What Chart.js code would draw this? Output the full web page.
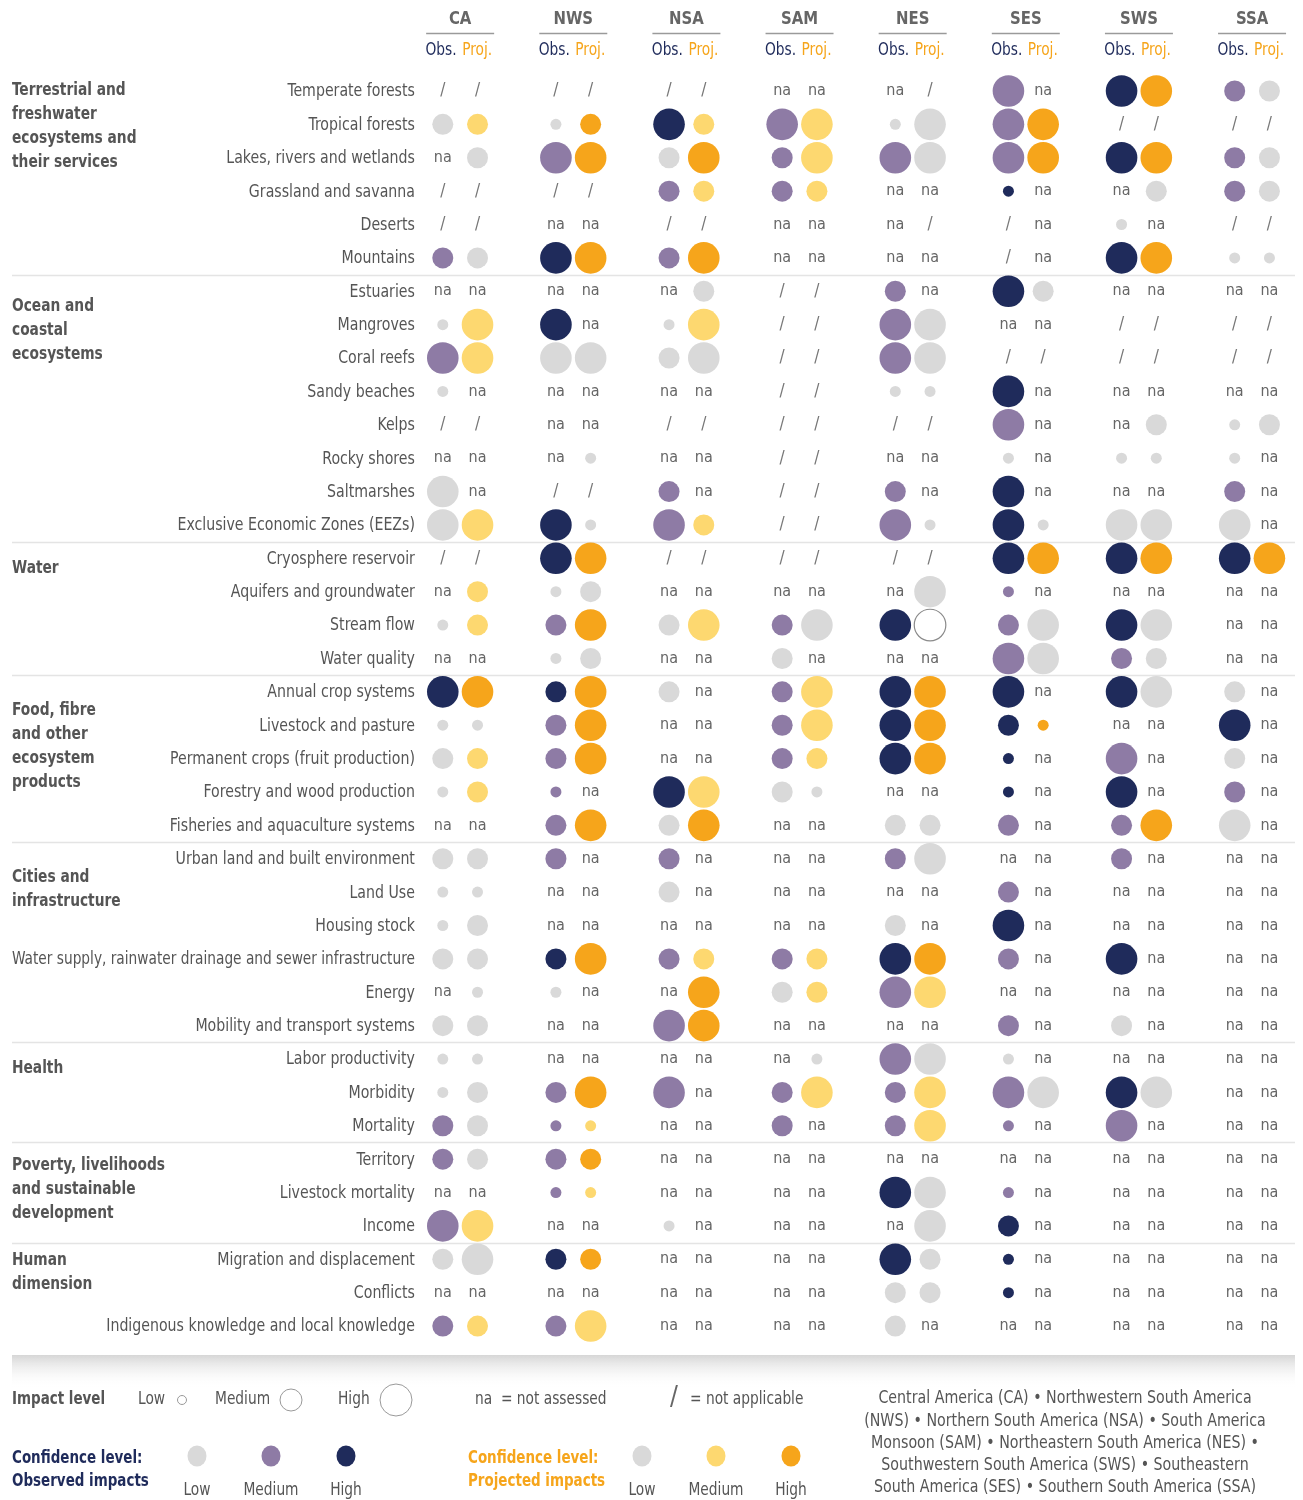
<!DOCTYPE html>
<html>
<head>
<meta charset="utf-8">
<script src="https://cdn.jsdelivr.net/npm/chart.js@4.4.1/dist/chart.umd.min.js"></script>
<style>
  html, body { margin: 0; background: #fff; }
  #wrap { width: 1303px; height: 1500px; position: relative; }
</style>
</head>
<body>
<div id="wrap"><canvas id="chart"></canvas></div>
<script>
// ---- data ----
const REGIONS = ['CA', 'NWS', 'NSA', 'SAM', 'NES', 'SES', 'SWS', 'SSA'];

const ROWS = [
    'Temperate forests', 'Tropical forests', 'Lakes, rivers and wetlands', 'Grassland and savanna', 'Deserts', 'Mountains',
    'Estuaries', 'Mangroves', 'Coral reefs', 'Sandy beaches', 'Kelps', 'Rocky shores', 'Saltmarshes', 'Exclusive Economic Zones (EEZs)',
    'Cryosphere reservoir', 'Aquifers and groundwater', 'Stream flow', 'Water quality',
    'Annual crop systems', 'Livestock and pasture', 'Permanent crops (fruit production)', 'Forestry and wood production', 'Fisheries and aquaculture systems',
    'Urban land and built environment', 'Land Use', 'Housing stock', 'Water supply, rainwater drainage and sewer infrastructure', 'Energy', 'Mobility and transport systems',
    'Labor productivity', 'Morbidity', 'Mortality',
    'Territory', 'Livestock mortality', 'Income',
    'Migration and displacement', 'Conflicts', 'Indigenous knowledge and local knowledge'
];

const GROUPS = [
    ['Terrestrial and', 'freshwater', 'ecosystems and', 'their services'],
    ['Ocean and', 'coastal', 'ecosystems'],
    ['Water'],
    ['Food, fibre', 'and other', 'ecosystem', 'products'],
    ['Cities and', 'infrastructure'],
    ['Health'],
    ['Poverty, livelihoods', 'and sustainable', 'development'],
    ['Human', 'dimension']
];
const GROUP_START = [0, 6, 14, 18, 23, 29, 32, 35];

// cell = "observed projected"; L/M/H = impact level, 1/2/3 = confidence, 0 = unrated
const CA = [
    '/ /', 'M1 M2', 'na M1', '/ /', '/ /', 'M2 M1',
    'na na', 'L1 H2', 'H2 H2', 'L1 na', '/ /', 'na na', 'H1 na', 'H1 H2',
    '/ /', 'na M2', 'L1 M2', 'na na',
    'H3 H3', 'L1 L1', 'M1 M2', 'L1 M2', 'na na',
    'M1 M1', 'L1 L1', 'L1 M1', 'M1 M1', 'na L1', 'M1 M1',
    'L1 L1', 'L1 M1', 'M2 M1',
    'M2 M1', 'na na', 'H2 H2',
    'M1 H1', 'na na', 'M2 M2'
];
const NWS = [
    '/ /', 'L1 M3', 'H2 H3', '/ /', 'na na', 'H3 H3',
    'na na', 'H3 na', 'H1 H1', 'na na', 'na na', 'na L1', '/ /', 'H3 L1',
    'H3 H3', 'L1 M1', 'M2 H3', 'L1 M1',
    'M3 H3', 'M2 H3', 'M2 H3', 'L2 na', 'M2 H3',
    'M2 na', 'na na', 'na na', 'M3 H3', 'L1 na', 'na na',
    'na na', 'M2 H3', 'L2 L2',
    'M2 M3', 'L2 L2', 'na na',
    'M3 M3', 'na na', 'M2 H2'
];
const NSA = [
    '/ /', 'H3 M2', 'M1 H3', 'M2 M2', '/ /', 'M2 H3',
    'na M1', 'L1 H2', 'M1 H1', 'na na', '/ /', 'na na', 'M2 na', 'H2 M2',
    '/ /', 'na na', 'M1 H2', 'na na',
    'M1 na', 'na na', 'na na', 'H3 H2', 'M1 H3',
    'M2 na', 'M1 na', 'na na', 'M2 M2', 'na H3', 'H2 H3',
    'na na', 'H2 na', 'na na',
    'na na', 'na na', 'L1 na',
    'na na', 'na na', 'na na'
];
const SAM = [
    'na na', 'H2 H2', 'M2 H2', 'M2 M2', 'na na', 'na na',
    '/ /', '/ /', '/ /', '/ /', '/ /', '/ /', '/ /', '/ /',
    '/ /', 'na na', 'M2 H1', 'M1 na',
    'M2 H2', 'M2 H2', 'M2 M2', 'M1 L1', 'na na',
    'na na', 'na na', 'na na', 'M2 M2', 'M1 M2', 'na na',
    'na L1', 'M2 H2', 'M2 na',
    'na na', 'na na', 'na na',
    'na na', 'na na', 'na na'
];
const NES = [
    'na /', 'L1 H1', 'H2 H1', 'na na', 'na /', 'na na',
    'M2 na', 'H2 H1', 'H2 H1', 'L1 L1', '/ /', 'na na', 'M2 na', 'H2 L1',
    '/ /', 'na H1', 'H3 H0', 'na na',
    'H3 H3', 'H3 H3', 'H3 H3', 'na na', 'M1 M1',
    'M2 H1', 'na na', 'M1 na', 'H3 H3', 'H2 H2', 'na na',
    'H2 H1', 'M2 H2', 'M2 H2',
    'na na', 'H3 H1', 'na H1',
    'H3 M1', 'M1 M1', 'M1 na'
];
const SES = [
    'H2 na', 'H2 H3', 'H2 H3', 'L3 na', '/ na', '/ na',
    'H3 M1', 'na na', '/ /', 'H3 na', 'H2 na', 'L1 na', 'H3 na', 'H3 L1',
    'H3 H3', 'L2 na', 'M2 H1', 'H2 H1',
    'H3 na', 'M3 L3', 'L3 na', 'L3 na', 'M2 na',
    'na na', 'M2 na', 'H3 na', 'M2 na', 'na na', 'M2 na',
    'L1 na', 'H2 H1', 'L2 na',
    'na na', 'L2 na', 'M3 na',
    'L3 na', 'L3 na', 'na na'
];
const SWS = [
    'H3 H3', '/ /', 'H3 H3', 'na M1', 'L1 na', 'H3 H3',
    'na na', '/ /', '/ /', 'na na', 'na M1', 'L1 L1', 'na na', 'H1 H1',
    'H3 H3', 'na na', 'H3 H1', 'M2 M1',
    'H3 H1', 'na na', 'H2 na', 'H3 na', 'M2 H3',
    'M2 na', 'na na', 'na na', 'H3 na', 'na na', 'M1 na',
    'na na', 'H3 H1', 'H2 na',
    'na na', 'na na', 'na na',
    'na na', 'na na', 'na na'
];
const SSA = [
    'M2 M1', '/ /', 'M2 M1', 'M2 M1', '/ /', 'L1 L1',
    'na na', '/ /', '/ /', 'na na', 'L1 M1', 'L1 na', 'M2 na', 'H1 na',
    'H3 H3', 'na na', 'na na', 'na na',
    'M1 na', 'H3 na', 'M1 na', 'M2 na', 'H1 na',
    'na na', 'na na', 'na na', 'na na', 'na na', 'na na',
    'na na', 'na na', 'na na',
    'na na', 'na na', 'na na',
    'na na', 'na na', 'na na'
];
const REGION_CELLS = [CA, NWS, NSA, SAM, NES, SES, SWS, SSA];

const REGION_NOTE = [
    'Central America (CA) \u2022 Northwestern South America',
    '(NWS) \u2022 Northern South America (NSA) \u2022 South America',
    'Monsoon (SAM) \u2022 Northeastern South America (NES) \u2022',
    'Southwestern South America (SWS) \u2022 Southeastern',
    'South America (SES) \u2022 Southern South America (SSA)'
];

// ---- styling ----
const FONT = '"Liberation Sans Narrow", "Arial Narrow", "DejaVu Sans Condensed", sans-serif';
const NAVY = '#1f2b5b';
const ORANGE = '#f6a51b';
const OBS_COLORS = { 0: '#ffffff', 1: '#d9d9d9', 2: '#8e7ba5', 3: NAVY };
const PROJ_COLORS = { 0: '#ffffff', 1: '#d9d9d9', 2: '#fdd870', 3: ORANGE };
const RADIUS = { L: 5.5, M: 10.5, H: 15.8 };
const HALF_GAP = 0.1535;   // obs / proj offset from region centre (x units)

function buildSeries(which) {
    const pts = [], colors = [], borders = [], widths = [];
    REGION_CELLS.forEach((cells, r) => {
        cells.forEach((cell, row) => {
            const code = cell.split(' ')[which];
            if (code === 'na' || code === '/') return;
            const conf = +code[1];
            pts.push({ x: r + (which ? HALF_GAP : -HALF_GAP), y: row, r: RADIUS[code[0]] });
            colors.push((which ? PROJ_COLORS : OBS_COLORS)[conf]);
            borders.push(conf === 0 ? '#8a8a8a' : 'rgba(0,0,0,0)');
            widths.push(conf === 0 ? 1.2 : 0);
        });
    });
    return { data: pts, backgroundColor: colors, borderColor: borders, borderWidth: widths, clip: false };
}

// squeeze text horizontally (the original uses a condensed face)
function narrow(ctx, text, x, y, squeeze, cap) {
    const w = ctx.measureText(text).width * squeeze;
    ctx.fillText(text, x, y, cap ? Math.min(w, cap) : w);
}

const decorPlugin = {
    id: 'decor',
    beforeDatasetsDraw(chart) {
        const { ctx, scales: { y } } = chart;
        ctx.save();
        ctx.strokeStyle = '#e4e4e4';
        ctx.lineWidth = 1.5;
        GROUP_START.slice(1).forEach(g => {
            const py = Math.round(y.getPixelForValue(g - 0.5)) + 0.5;
            ctx.beginPath(); ctx.moveTo(12, py); ctx.lineTo(1295, py); ctx.stroke();
        });
        ctx.restore();
    },
    afterDraw(chart) {
        const { ctx, chartArea, scales: { x, y } } = chart;
        ctx.save();
        ctx.textBaseline = 'middle';

        // row labels, placed on the y scale
        ctx.textAlign = 'right';
        ctx.fillStyle = '#555';
        ctx.font = '17px ' + FONT;
        ROWS.forEach((label, i) => narrow(ctx, label, chartArea.left, y.getPixelForValue(i) + 1, 0.925, chartArea.left - 12));

        // header
        REGIONS.forEach((name, r) => {
            const cx = x.getPixelForValue(r);
            ctx.textAlign = 'center';
            ctx.fillStyle = '#666';
            ctx.font = 'bold 18px ' + FONT;
            narrow(ctx, name, cx, 19, 0.92);
            ctx.strokeStyle = '#9a9a9a';
            ctx.lineWidth = 1.5;
            ctx.beginPath(); ctx.moveTo(cx - 34, 33.5); ctx.lineTo(cx + 34, 33.5); ctx.stroke();
            ctx.font = '17px ' + FONT;
            ctx.textAlign = 'right';
            ctx.fillStyle = NAVY;
            narrow(ctx, 'Obs.', cx - 3.5, 51, 0.9);
            ctx.textAlign = 'left';
            ctx.fillStyle = ORANGE;
            narrow(ctx, 'Proj.', cx + 2, 51, 0.9);
        });

        // na and not-applicable cells
        ctx.textAlign = 'center';
        REGION_CELLS.forEach((cells, r) => {
            cells.forEach((cell, row) => {
                cell.split(' ').forEach((code, k) => {
                    if (code !== 'na' && code !== '/') return;
                    const px = x.getPixelForValue(r + (k ? HALF_GAP : -HALF_GAP));
                    const py = y.getPixelForValue(row);
                    ctx.fillStyle = code === 'na' ? '#666' : '#777';
                    ctx.font = (code === 'na' ? '16px ' : '17px ') + FONT;
                    ctx.fillText(code, px, py);
                });
            });
        });

        // group labels
        const groupShift = [0, 15, 10, 19, 19, 10, 6, 1];
        ctx.textAlign = 'left';
        ctx.fillStyle = '#555';
        ctx.font = 'bold 17px ' + FONT;
        GROUPS.forEach((lines, g) => {
            const top = y.getPixelForValue(GROUP_START[g]) + groupShift[g];
            lines.forEach((line, i) => narrow(ctx, line, 12, top + i * 24, 0.9));
        });

        // legend band
        const grad = ctx.createLinearGradient(0, 1355, 0, 1388);
        grad.addColorStop(0, '#d6d6d6');
        grad.addColorStop(1, 'rgba(255,255,255,0)');
        ctx.fillStyle = grad;
        ctx.fillRect(12, 1355, 1283, 33);

        // impact level legend
        ctx.fillStyle = '#555';
        ctx.font = 'bold 17px ' + FONT;
        narrow(ctx, 'Impact level', 12, 1400, 0.88);
        ctx.font = '17px ' + FONT;
        narrow(ctx, 'Low', 138, 1400, 0.9);
        narrow(ctx, 'Medium', 215, 1400, 0.9);
        narrow(ctx, 'High', 338, 1400, 0.9);
        ctx.strokeStyle = '#999';
        ctx.lineWidth = 1;
        [[182, 4.5], [291, 11], [396, 16]].forEach(([cx, rr]) => {
            ctx.beginPath(); ctx.arc(cx, 1400, rr, 0, Math.PI * 2); ctx.stroke();
        });
        narrow(ctx, 'na  = not assessed', 475, 1400, 0.9);
        narrow(ctx, '= not applicable', 690, 1400, 0.9);
        ctx.font = '26px ' + FONT;
        ctx.fillStyle = '#666';
        ctx.fillText('/', 670, 1398);

        // confidence legends
        ctx.font = 'bold 17px ' + FONT;
        ctx.fillStyle = NAVY;
        narrow(ctx, 'Confidence level:', 12, 1459, 0.88);
        narrow(ctx, 'Observed impacts', 12, 1482, 0.88);
        ctx.fillStyle = ORANGE;
        narrow(ctx, 'Confidence level:', 468, 1459, 0.88);
        narrow(ctx, 'Projected impacts', 468, 1482, 0.88);
        const swatch = (cx, color, label) => {
            ctx.fillStyle = color;
            ctx.beginPath(); ctx.ellipse(cx, 1456, 9.5, 10.5, 0, 0, Math.PI * 2); ctx.fill();
            ctx.fillStyle = '#555';
            ctx.font = '17px ' + FONT;
            ctx.textAlign = 'center';
            narrow(ctx, label, cx, 1491, 0.9);
            ctx.textAlign = 'left';
        };
        swatch(197, OBS_COLORS[1], 'Low');
        swatch(271, OBS_COLORS[2], 'Medium');
        swatch(346, OBS_COLORS[3], 'High');
        swatch(642, PROJ_COLORS[1], 'Low');
        swatch(716, PROJ_COLORS[2], 'Medium');
        swatch(791, PROJ_COLORS[3], 'High');

        // region names note
        ctx.textAlign = 'center';
        ctx.fillStyle = '#555';
        ctx.font = '17px ' + FONT;
        REGION_NOTE.forEach((line, i) => narrow(ctx, line, 1065, 1399 + i * 22.2, 0.93));
        ctx.restore();
    }
};

new Chart(document.getElementById('chart'), {
    type: 'bubble',
    data: {
        datasets: [buildSeries(0), buildSeries(1)]
    },
    options: {
        responsive: true,
        maintainAspectRatio: false,
        animation: false,
        events: [],
        layout: { padding: { top: 74.3, bottom: 157.25, left: 0, right: 10.3 } },
        plugins: { legend: { display: false }, tooltip: { enabled: false } },
        scales: {
            x: { type: 'linear', min: -0.4, max: 7.3, display: false },
            y: {
                type: 'linear',
                reverse: true,
                min: -0.5,
                max: 37.5,
                afterFit: axis => { axis.width = 414.9; },
                afterBuildTicks: axis => { axis.ticks = ROWS.map((_, i) => ({ value: i })); },
                grid: { display: false, drawTicks: false },
                border: { display: false },
                ticks: { display: false }
            }
        }
    },
    plugins: [decorPlugin]
});
</script>
</body>
</html>
